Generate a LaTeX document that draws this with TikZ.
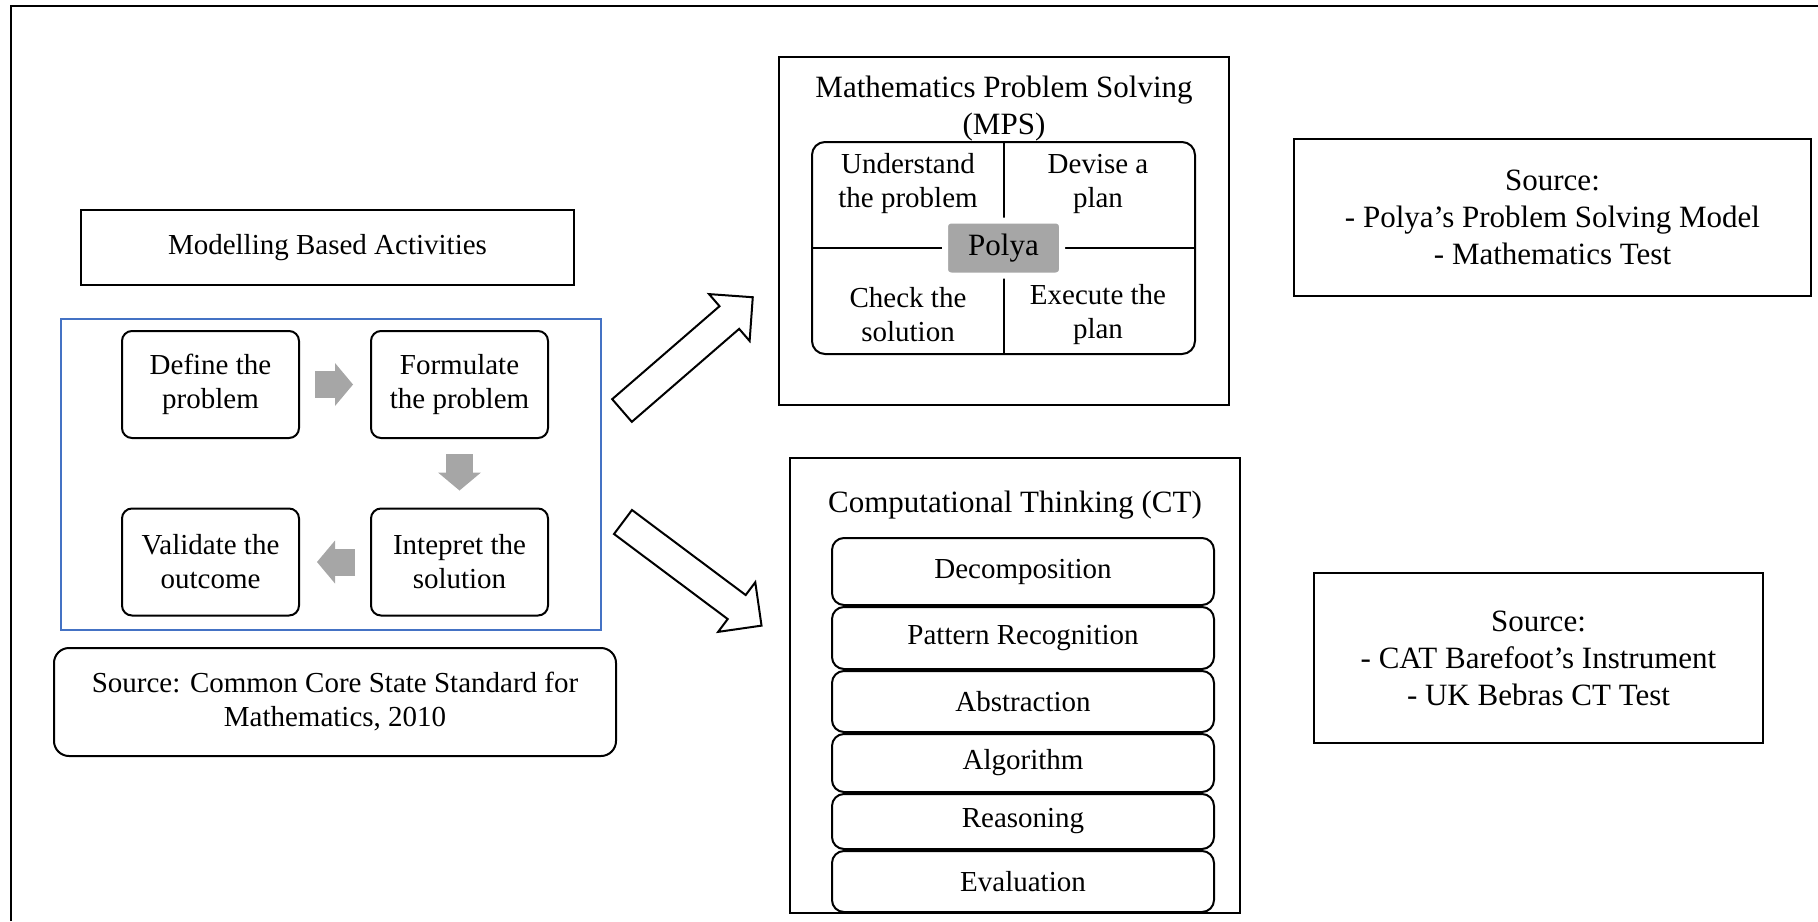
\documentclass[tikz,border=0pt]{standalone}
\usepackage{fontspec}
\setmainfont{Liberation Serif}
\usetikzlibrary{arrows.meta,positioning}
\definecolor{frameblue}{RGB}{68,114,196}
\definecolor{stepgray}{RGB}{166,166,166}
\definecolor{lineblack}{RGB}{0,0,0}

\newcommand{\hollowarrow}[2]{%
  \draw[hollow, shift={#1}, rotate=#2] (0,15) -- (142,15) -- (142,31) -- (173,0)
    -- (142,-31) -- (142,-15) -- (0,-15) -- cycle;}

\begin{document}
\begin{tikzpicture}[
  x=0.5pt, y=-0.5pt,
  bigtext/.style={font=\fontsize{15.5}{18.5}\selectfont, align=center},
  smalltext/.style={font=\fontsize{14.5}{17}\selectfont, align=center},
  plainbox/.style={rectangle, draw=lineblack, line width=1pt, inner sep=0pt},
  stepbox/.style={rectangle, rounded corners=5pt, draw=lineblack, line width=1pt, minimum width=88.5pt, minimum height=53.5pt, inner sep=0pt, smalltext},
  ctbox/.style={rectangle, rounded corners=6pt, draw=lineblack, line width=1pt, minimum width=191pt, inner sep=0pt, smalltext},
  grayarr/.style={-{Triangle[length=9pt 0 0, width=21.5pt 0 0, line width=0pt]}, draw=stepgray, line width=13.5pt, shorten <=7.5pt, shorten >=8.5pt},
  hollow/.style={draw=lineblack, line width=1pt, fill=white, line join=miter}
]
\useasboundingbox (0,0) rectangle (1818,921);
\draw[line width=1pt] (11,921) -- (11,6) -- (1818,6);

\node[plainbox, smalltext, minimum width=246.5pt, minimum height=37.5pt] (mba) at (327.5,247.5) {Modelling Based Activities};
\node[plainbox, draw=frameblue, line width=0.8pt, minimum width=270pt, minimum height=155.5pt] (cycle) at (331,474.5) {};
\node[stepbox] (define) at (210.5,384.5) {Define the\\problem};
\node[stepbox] (formulate) at (459.5,384.5) {Formulate\\the problem};
\node[stepbox] (interpret) at (459.5,562) {Intepret the\\solution};
\node[stepbox] (validate) at (210.5,562) {Validate the\\outcome};
\node[plainbox, rounded corners=7.5pt, smalltext, minimum width=281pt, minimum height=54pt] (ccss) at (335,702) {Source: Common Core State Standard for\\Mathematics, 2010};

\draw[grayarr] (define) -- (formulate);
\draw[grayarr] (formulate) -- (interpret);
\draw[grayarr] (interpret) -- (validate);

\hollowarrow{(622,410.5)}{40.9}
\hollowarrow{(623,522)}{-36.8}

\node[plainbox, minimum width=225pt, minimum height=174pt] (mps) at (1004,231) {};
\node[bigtext] (mpstitle) at (1004,108.5) {Mathematics Problem Solving\\(MPS)};
\node[plainbox, rounded corners=6.5pt, minimum width=191.5pt, minimum height=106pt] (quad) at (1003.5,248) {};
\draw[line width=1pt] (quad.north) -- (quad.south);
\draw[line width=1pt] (quad.west) -- (quad.east);
\node[rectangle, rounded corners=3pt, fill=stepgray, draw=white, line width=3pt, minimum width=58.5pt, minimum height=27.5pt, inner sep=0pt, bigtext] (polya) at (quad.center) {Polya};
\node[smalltext] (understand) at (908,183.5) {Understand\\the problem};
\node[smalltext] (devise) at (1098,183.5) {Devise a\\plan};
\node[smalltext] (check) at (908,315) {Check the\\solution};
\node[smalltext] (execute) at (1098,315) {Execute the\\plan};

\node[plainbox, bigtext, minimum width=258.5pt, minimum height=78.5pt] (mpssrc) at (1552.5,217.5) {Source:\\- Polya’s Problem Solving Model\\- Mathematics Test};

\node[plainbox, minimum width=225pt, minimum height=227.5pt] (ct) at (1015,685.5) {};
\node[bigtext] (cttitle) at (1015,505) {Computational Thinking (CT)};
\node[ctbox, minimum height=33.5pt] (decomp) at (1023,571.5) {Decomposition};
\node[ctbox, minimum height=31pt, below=0pt of decomp] (pattern) {Pattern Recognition};
\node[ctbox, minimum height=30.5pt, below=0pt of pattern] (abstract) {Abstraction};
\node[ctbox, minimum height=29pt, below=0pt of abstract] (algo) {Algorithm};
\node[ctbox, minimum height=27.5pt, below=0pt of algo] (reason) {Reasoning};
\node[ctbox, minimum height=30.5pt, below=0pt of reason] (evaluate) {Evaluation};

\node[plainbox, bigtext, minimum width=224.5pt, minimum height=85pt] (ctsrc) at (1538.5,658) {Source:\\- CAT Barefoot’s Instrument\\- UK Bebras CT Test};
\end{tikzpicture}
\end{document}
